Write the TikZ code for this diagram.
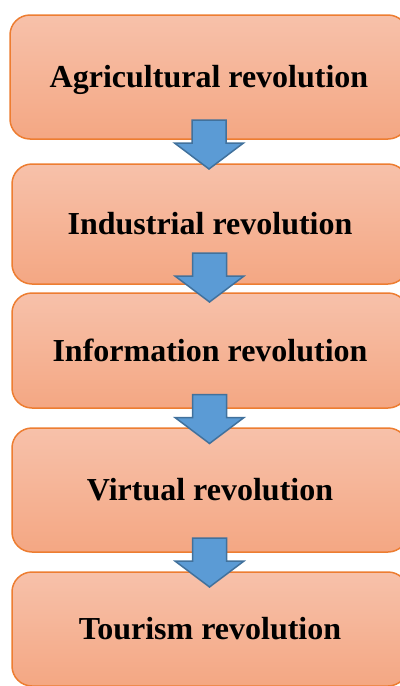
\documentclass[tikz,border=0pt]{standalone}
\usepackage{fontspec}
\setmainfont{Liberation Serif}
\usetikzlibrary{calc}
\definecolor{peachtop}{RGB}{247,193,170}
\definecolor{peachbot}{RGB}{244,167,131}
\definecolor{peachline}{RGB}{237,125,49}
\definecolor{arrowfill}{RGB}{91,155,213}
\definecolor{arrowline}{RGB}{65,113,156}
\tikzstyle{stage} = [rectangle, rounded corners=10pt, minimum width=198pt, text centered, text height=10.6pt, text depth=0pt, line width=0.75pt, draw=peachline, top color=peachtop, bottom color=peachbot, font=\fontsize{16}{19}\selectfont\bfseries]
\tikzstyle{flow} = [line width=0.75pt, draw=arrowline, fill=arrowfill, line join=miter]
\newcommand{\shaft}{17}
\newcommand{\head}{34.5}

\begin{document}
\begin{tikzpicture}[x=0.5pt, y=-0.5pt]

  %\draw[help lines] (0,0) grid (400,686);
  \useasboundingbox (0,0) rectangle (400,686);
  \clip (0,0) rectangle (400,686);

  \node (agri) [stage, minimum width=199pt, minimum height=62pt] at (209,77) {Agricultural revolution};
  \node (indu) [stage, minimum height=60pt] at (210,224) {Industrial revolution};
  \node (info) [stage, minimum height=57.5pt] at (210,350.5) {Information revolution};
  \node (virt) [stage, minimum height=62pt] at (210,490) {Virtual revolution};
  \node (tour) [stage, minimum height=57pt] at (210,629) {Tourism revolution};

  % block arrows, nudged off the middle of each gap
  \foreach \a/\b/\dy in {agri/indu/-7, indu/info/-11, info/virt/1, virt/tour/0.5}{
    \coordinate (m) at ($(\a.south)!0.5!(\b.north)+(-0.5,\dy)$);
    \draw [flow] ($(m)+(-\shaft,-24.5)$) -- ($(m)+(\shaft,-24.5)$) -- % shaft
                 ($(m)+(\shaft,-1.5)$) -- ($(m)+(\head,-1.5)$) --      % right barb
                 ($(m)+(0,24.5)$) --                                   % tip
                 ($(m)+(-\head,-1.5)$) -- ($(m)+(-\shaft,-1.5)$) -- cycle;
  }

\end{tikzpicture}
\end{document}
